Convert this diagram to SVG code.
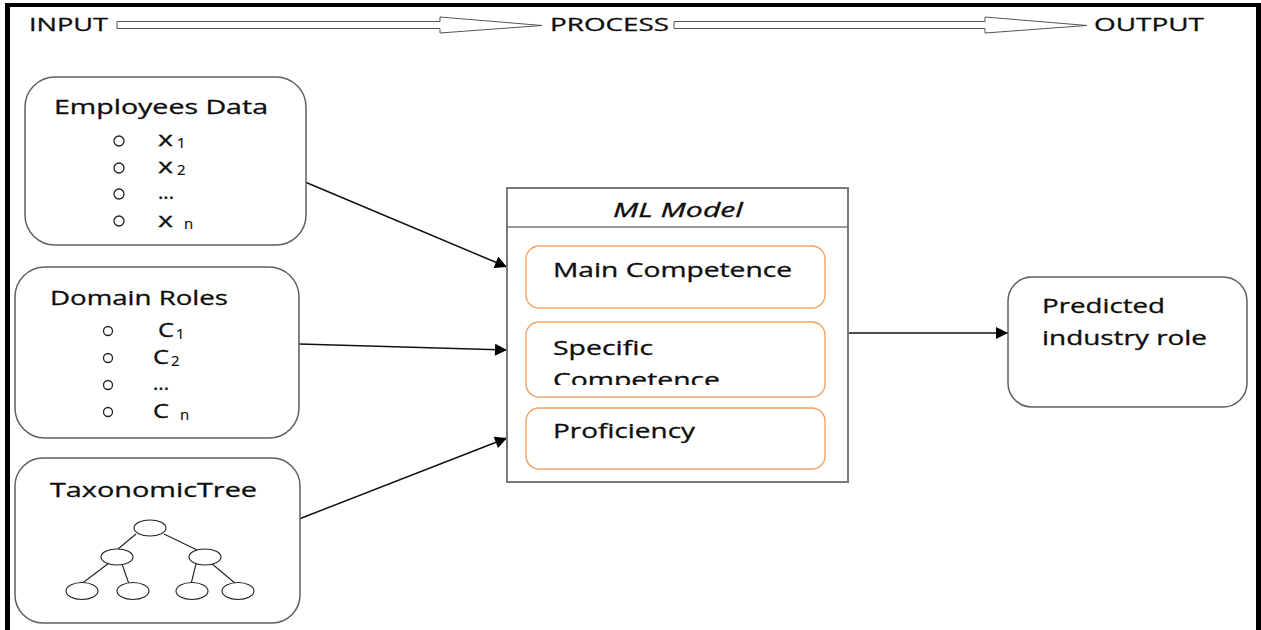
<svg xmlns="http://www.w3.org/2000/svg" width="1261" height="630" viewBox="0 0 1261 630">
  <style>
    .t { font-family: "Open Sans", "Liberation Sans", sans-serif; font-size: 20px; fill: #0d0d0d; stroke: #0d0d0d; stroke-width: 0.3; }
    .hd { font-size: 19px; }
    .sub { font-family: "Open Sans", "Liberation Sans", sans-serif; font-size: 15px; fill: #0d0d0d; stroke: #0d0d0d; stroke-width: 0.2; }
    .it { font-style: italic; }
    .node { fill: #ffffff; stroke: #5f5f5f; stroke-width: 1.5; }
    .inner { fill: #ffffff; stroke: #f2a365; stroke-width: 1.4; }
    .bullet { fill: none; stroke: #222222; stroke-width: 1.3; }
    .tree { fill: #ffffff; stroke: #222222; stroke-width: 1.1; }
    .treeline { stroke: #222222; stroke-width: 1.1; fill: none; }
    .conn { stroke: #111111; stroke-width: 1.5; fill: none; marker-end: url(#arrow); }
    .flow { fill: #ffffff; stroke: #555555; stroke-width: 1; }
    .frame { fill: #000000; }
  </style>
  <defs>
    <marker id="arrow" viewBox="0 0 10 10" refX="10" refY="5" markerUnits="userSpaceOnUse" markerWidth="16" markerHeight="12" orient="auto">
      <path d="M0,0 L10,5 L0,10 z" fill="#000000"/>
    </marker>
    <clipPath id="specClip">
      <rect x="526" y="322" width="300" height="63"/>
    </clipPath>
  </defs>

  <rect width="1261" height="630" fill="#ffffff"/>

  <!-- outer frame (open at the bottom) -->
  <g id="frame">
    <rect class="frame" x="5" y="3" width="1256" height="4"/>
    <rect class="frame" x="5" y="3" width="5" height="627"/>
    <rect class="frame" x="1256" y="3" width="5" height="627"/>
  </g>

  <!-- stage header: INPUT -> PROCESS -> OUTPUT -->
  <g id="header">
    <text class="t hd" x="29" y="31" textLength="79" lengthAdjust="spacingAndGlyphs">INPUT</text>
    <polygon class="flow" points="117,21.5 440,21.5 440,17 542,25.5 440,33 440,28.5 117,28.5"/>
    <text class="t hd" x="550" y="31" textLength="119" lengthAdjust="spacingAndGlyphs">PROCESS</text>
    <polygon class="flow" points="674,21.5 985,21.5 985,17 1087,25.5 985,33 985,28.5 674,28.5"/>
    <text class="t hd" x="1094" y="31" textLength="110" lengthAdjust="spacingAndGlyphs">OUTPUT</text>
  </g>

  <!-- connectors -->
  <g id="connectors">
    <line class="conn" x1="305" y1="182" x2="507" y2="267"/>
    <line class="conn" x1="299" y1="344" x2="507" y2="350"/>
    <line class="conn" x1="299" y1="519" x2="507" y2="438"/>
    <line class="conn" x1="848" y1="333" x2="1008" y2="333"/>
  </g>

  <!-- input: employees data -->
  <g id="employees-data">
    <rect class="node" x="25" y="77" width="281" height="168" rx="30" ry="30"/>
    <text class="t" x="54" y="114" textLength="214" lengthAdjust="spacingAndGlyphs">Employees Data</text>
    <circle class="bullet" cx="119" cy="141" r="5"/>
    <circle class="bullet" cx="119" cy="168" r="5"/>
    <circle class="bullet" cx="119" cy="194" r="5"/>
    <circle class="bullet" cx="119" cy="221" r="5"/>
    <text class="t" x="158" y="146" textLength="15" lengthAdjust="spacingAndGlyphs">x</text>
    <text class="sub" x="177" y="148">1</text>
    <text class="t" x="158" y="173" textLength="15" lengthAdjust="spacingAndGlyphs">x</text>
    <text class="sub" x="177" y="175">2</text>
    <text class="t" x="158" y="199" textLength="16" lengthAdjust="spacingAndGlyphs">...</text>
    <text class="t" x="158" y="227" textLength="15" lengthAdjust="spacingAndGlyphs">x</text>
    <text class="sub" x="184" y="229">n</text>
  </g>

  <!-- input: domain roles -->
  <g id="domain-roles">
    <rect class="node" x="15" y="267" width="284" height="171" rx="30" ry="30"/>
    <text class="t" x="50" y="305" textLength="178" lengthAdjust="spacingAndGlyphs">Domain Roles</text>
    <circle class="bullet" cx="108" cy="331" r="4.5"/>
    <circle class="bullet" cx="108" cy="358" r="4.5"/>
    <circle class="bullet" cx="108" cy="385" r="4.5"/>
    <circle class="bullet" cx="108" cy="412" r="4.5"/>
    <text class="t" x="158" y="337" textLength="16" lengthAdjust="spacingAndGlyphs">C</text>
    <text class="sub" x="176" y="339">1</text>
    <text class="t" x="153" y="364" textLength="16" lengthAdjust="spacingAndGlyphs">C</text>
    <text class="sub" x="171" y="366">2</text>
    <text class="t" x="153" y="390" textLength="16" lengthAdjust="spacingAndGlyphs">...</text>
    <text class="t" x="153" y="418" textLength="16" lengthAdjust="spacingAndGlyphs">C</text>
    <text class="sub" x="180" y="420">n</text>
  </g>

  <!-- input: taxonomic tree -->
  <g id="taxonomic-tree">
    <rect class="node" x="15" y="458" width="285" height="165" rx="28" ry="28"/>
    <text class="t" x="50" y="497" textLength="207" lengthAdjust="spacingAndGlyphs">TaxonomicTree</text>
    <path class="treeline" d="M136,534 L118,549 M164,534 L197,550 M109,563 L80,585 M122,564 L129,584 M196,564 L191,584 M211,563 L236,584"/>
    <ellipse class="tree" cx="150" cy="528" rx="16" ry="8"/>
    <ellipse class="tree" cx="117" cy="557" rx="16" ry="8"/>
    <ellipse class="tree" cx="205" cy="557" rx="16" ry="8"/>
    <ellipse class="tree" cx="82" cy="591" rx="16" ry="8.5"/>
    <ellipse class="tree" cx="133" cy="591" rx="16" ry="8.5"/>
    <ellipse class="tree" cx="192" cy="591" rx="16" ry="8.5"/>
    <ellipse class="tree" cx="238" cy="591" rx="16" ry="8.5"/>
  </g>

  <!-- process: ML model -->
  <g id="ml-model">
    <rect x="507" y="188" width="341" height="294" fill="#ffffff" stroke="#7a7a7a" stroke-width="2"/>
    <line x1="507" y1="227" x2="848" y2="227" stroke="#7a7a7a" stroke-width="1.5"/>
    <text class="t it" x="613" y="217" textLength="130" lengthAdjust="spacingAndGlyphs">ML Model</text>
  </g>
  <g id="main-competence">
    <rect class="inner" x="526" y="246" width="299" height="62" rx="13" ry="13"/>
    <text class="t" x="553" y="277" textLength="239" lengthAdjust="spacingAndGlyphs">Main Competence</text>
  </g>
  <g id="specific-competence">
    <rect class="inner" x="526" y="322" width="299" height="75" rx="13" ry="13"/>
    <text class="t" x="553" y="355" textLength="100" lengthAdjust="spacingAndGlyphs">Specific</text>
    <text class="t" x="553" y="387" textLength="167" lengthAdjust="spacingAndGlyphs" clip-path="url(#specClip)">Competence</text>
  </g>
  <g id="proficiency">
    <rect class="inner" x="526" y="408" width="299" height="61" rx="13" ry="13"/>
    <text class="t" x="553" y="438" textLength="142" lengthAdjust="spacingAndGlyphs">Proficiency</text>
  </g>

  <!-- output -->
  <g id="predicted-role">
    <rect class="node" x="1008" y="277" width="239" height="130" rx="24" ry="24"/>
    <text class="t" x="1042" y="313" textLength="123" lengthAdjust="spacingAndGlyphs">Predicted</text>
    <text class="t" x="1042" y="345" textLength="165" lengthAdjust="spacingAndGlyphs">industry role</text>
  </g>
</svg>
